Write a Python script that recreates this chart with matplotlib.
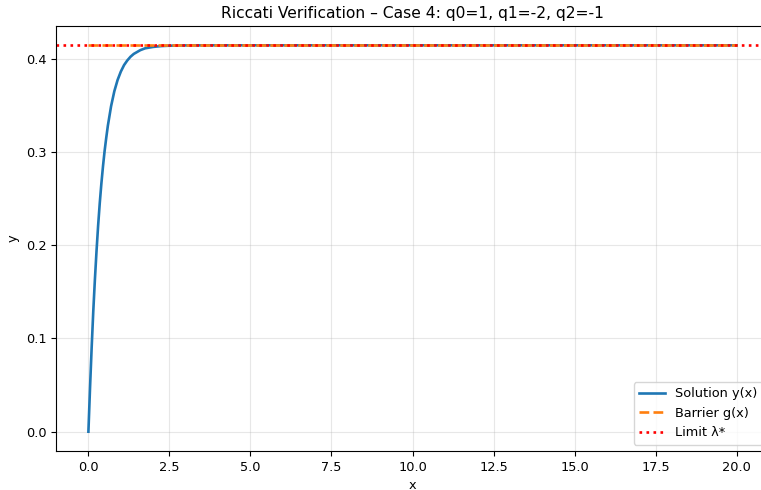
import numpy as np
import matplotlib
matplotlib.use("Agg")
import matplotlib.pyplot as plt

# Riccati case 4 values
x_sol = [0.0, 0.05, 0.1, 0.15, 0.2, 0.25, 0.3, 0.35, 0.4, 0.45, 0.5, 0.55,
         0.6, 0.7, 0.8, 0.9, 1.0, 1.1, 1.2, 1.3, 1.4, 1.5, 1.6, 1.75, 2.0,
         2.25, 2.5, 3.0, 4.0, 6.0, 10.0, 15.0, 20.0]
y_sol = [0.0, 0.047, 0.090, 0.129, 0.163, 0.1935, 0.221, 0.245, 0.266, 0.2845,
         0.301, 0.315, 0.328, 0.349, 0.365, 0.377, 0.386, 0.393, 0.398, 0.402,
         0.405, 0.407, 0.409, 0.411, 0.4125, 0.4134, 0.4138, 0.4141, 0.4142,
         0.4142, 0.4142, 0.4142, 0.4142]
x_bar = [0.0, 20.0]
g_bar = [0.4142, 0.4142]
lam = 0.4142

plt.rcParams['font.size'] = 9.3

fig = plt.figure(figsize=(7.61, 4.90), dpi=100)
# axes run past the right edge, as in the (cropped) reference
ax = fig.add_axes([56 / 761, 39 / 490, 713 / 761, 425 / 490])

ax.plot(x_sol, y_sol, color='#1f77b4', lw=1.9, label='Solution y(x)')
ax.plot(x_bar, g_bar, color='#ff7f0e', lw=1.9, ls='--', label='Barrier g(x)')
ax.axhline(lam, color='red', lw=1.9, ls=':', label='Limit λ*')

ax.set_xlabel('x')
ax.set_ylabel('y')
ax.set_title('Riccati Verification – Case 4: q0=1, q1=-2, q2=-1', fontsize=11.2)
ax.grid(True, alpha=0.3)
ax.legend(loc='lower right')

fig.savefig('out.png', dpi=100)
